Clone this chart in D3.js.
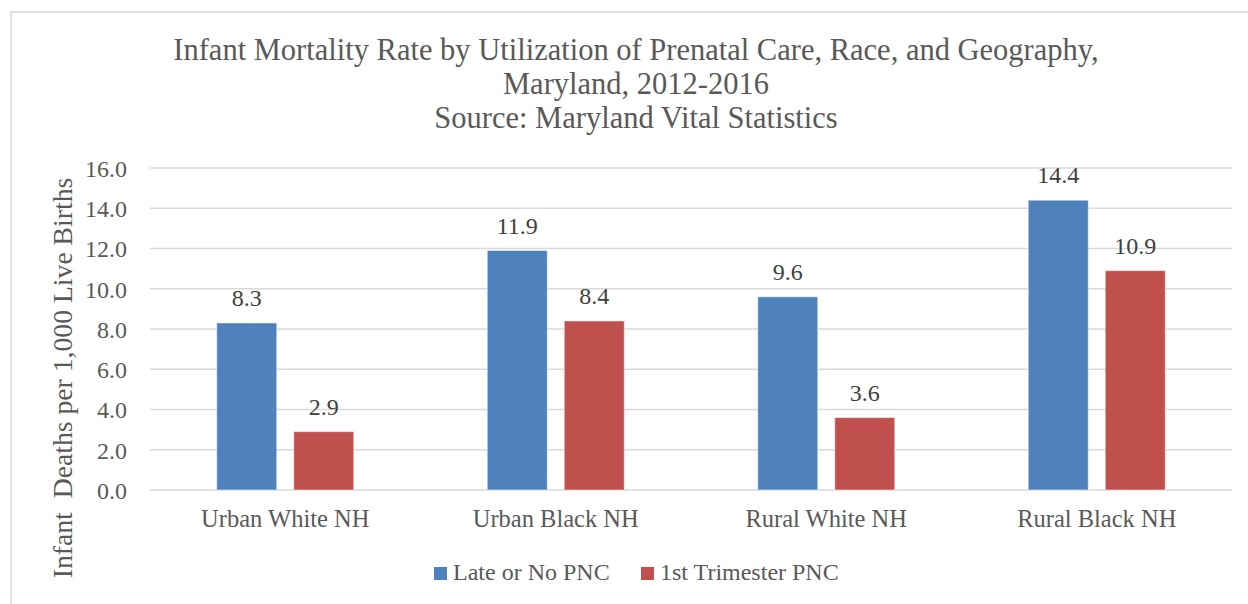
<!DOCTYPE html>
<html>
<head>
<meta charset="utf-8">
<script src="https://cdn.jsdelivr.net/npm/d3@7"></script>
<style>
  body { margin: 0; background: #fff; }
  text { font-family: "Liberation Serif", serif; }
</style>
</head>
<body>
<svg id="chart" width="1248" height="604"></svg>
<script>
// data
const categories = ["Urban White NH", "Urban Black NH", "Rural White NH", "Rural Black NH"];
const series = ["Late or No PNC", "1st Trimester PNC"];
const lateValues = [8.3, 11.9, 9.6, 14.4];
const firstTriValues = [2.9, 8.4, 3.6, 10.9];
const yTicks = [0, 2, 4, 6, 8, 10, 12, 14, 16];
const colors = ["#4f81bd", "#c0504d"];

const titleLines = [
  "Infant Mortality Rate by Utilization of Prenatal Care, Race, and Geography,",
  "Maryland, 2012-2016",
  "Source: Maryland Vital Statistics"
];

const svg = d3.select("#chart");

// outer chart border
svg.append("rect")
  .attr("x", 11).attr("y", 12)
  .attr("width", 1260).attr("height", 620)
  .attr("fill", "none")
  .attr("stroke", "#d9d9d9")
  .attr("stroke-width", 1.5);

const plotL = 150, plotR = 1232, plotT = 168, plotB = 490;

const x0 = d3.scaleBand().domain(categories).range([plotL, plotR]);
const bw = x0.bandwidth();
const groupW = 137;
const x1 = d3.scaleBand().domain(series)
  .range([(bw - groupW) / 2, (bw + groupW) / 2])
  .paddingInner(17 / 77);
const y = d3.scaleLinear().domain([0, 16]).range([plotB, plotT]);

// gridlines
svg.append("g")
  .selectAll("line")
  .data(yTicks)
  .enter()
  .append("line")
  .attr("x1", plotL).attr("x2", plotR)
  .attr("y1", d => y(d)).attr("y2", d => y(d))
  .attr("stroke", "#d9d9d9")
  .attr("stroke-width", 1.5);

// y axis tick labels
const yAxis = d3.axisLeft(y).tickValues(yTicks).tickFormat(d3.format(".1f")).tickSize(0).tickPadding(0);
svg.append("g")
  .attr("transform", "translate(127,0)")
  .call(yAxis)
  .call(g => g.select(".domain").remove())
  .selectAll("text")
  .attr("font-family", "Liberation Serif")
  .attr("font-size", 24)
  .attr("fill", "#595959")
  .attr("dy", "0.35em");

// x axis labels
const xAxis = d3.axisBottom(x0).tickSize(0).tickPadding(0);
svg.append("g")
  .attr("transform", "translate(0,527)")
  .call(xAxis)
  .call(g => g.select(".domain").remove())
  .selectAll("text")
  .attr("font-family", "Liberation Serif")
  .attr("font-size", 24.5)
  .attr("fill", "#595959")
  .attr("dy", 0);

// bars
const rows = categories.map((c, i) => ({cat: c, vals: [lateValues[i], firstTriValues[i]]}));
const groups = svg.append("g")
  .selectAll("g")
  .data(rows)
  .enter()
  .append("g")
  .attr("transform", d => "translate(" + x0(d.cat) + ",0)");

groups.selectAll("rect")
  .data(d => d.vals.map((v, j) => ({s: series[j], v: v, j: j})))
  .enter()
  .append("rect")
  .attr("x", d => x1(d.s))
  .attr("width", x1.bandwidth())
  .attr("y", d => y(d.v))
  .attr("height", d => y(0) - y(d.v))
  .attr("fill", d => colors[d.j])
  .attr("stroke", "#ffffff")
  .attr("stroke-opacity", 0.5)
  .attr("stroke-width", 1);

groups.selectAll("text")
  .data(d => d.vals.map((v, j) => ({s: series[j], v: v, j: j})))
  .enter()
  .append("text")
  .attr("x", d => x1(d.s) + x1.bandwidth() / 2)
  .attr("y", d => y(d.v) - 17)
  .attr("text-anchor", "middle")
  .attr("font-size", 24)
  .attr("fill", "#404040")
  .text(d => d3.format(".1f")(d.v));

// title
svg.append("g")
  .selectAll("text")
  .data(titleLines)
  .enter()
  .append("text")
  .attr("x", 636)
  .attr("y", (d, i) => 60 + i * 34)
  .attr("text-anchor", "middle")
  .attr("font-size", 30.5)
  .attr("fill", "#595959")
  .text(d => d);

// y axis title
svg.append("text")
  .attr("transform", "translate(72," + 378 + ") rotate(-90)")
  .attr("text-anchor", "middle")
  .attr("font-size", 27.7)
  .attr("fill", "#595959")
  .style("white-space", "pre")
  .text("Infant  Deaths per 1,000 Live Births");

// legend
const legendX = [434, 641];
const legend = svg.append("g")
  .selectAll("g")
  .data(series)
  .enter()
  .append("g")
  .attr("transform", (d, i) => "translate(" + legendX[i] + ",0)");
legend.append("rect")
  .attr("x", 0).attr("y", 567)
  .attr("width", 13).attr("height", 13)
  .attr("fill", (d, i) => colors[i]);
legend.append("text")
  .attr("x", 19).attr("y", 580)
  .attr("font-size", 24)
  .attr("fill", "#595959")
  .text(d => d);
</script>
</body>
</html>
